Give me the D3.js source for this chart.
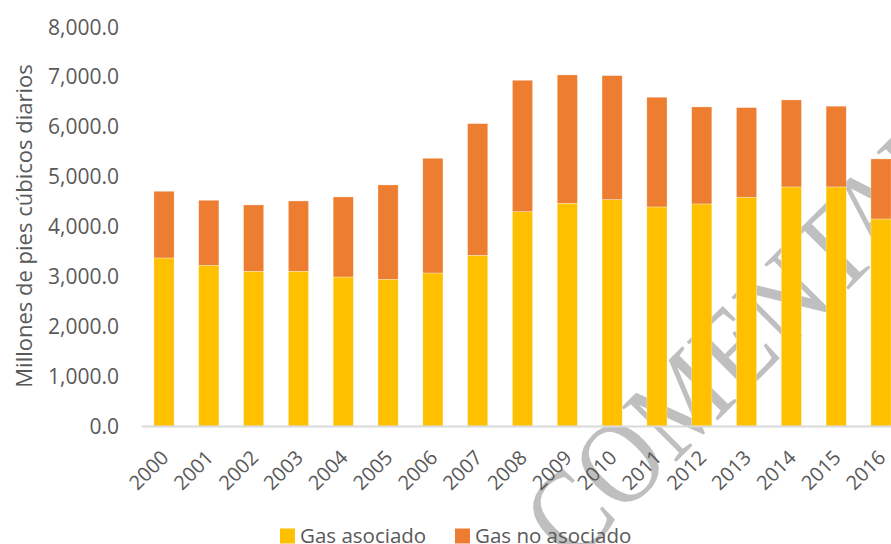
<!DOCTYPE html>
<html><head><meta charset="utf-8">
<script src="https://cdn.jsdelivr.net/npm/d3@7"></script>
<style>html,body{margin:0;padding:0;background:#fff;overflow:hidden}svg{display:block}</style>
</head><body>
<script>
const years = ["2000","2001","2002","2003","2004","2005","2006","2007","2008","2009","2010","2011","2012","2013","2014","2015","2016"];
const gasAsociado = [3367,3220,3100,3100,2986,2940,3066,3420,4295,4462,4536,4389,4449,4583,4790,4790,4148];
const gasTotal = [4703,4523,4429,4509,4589,4830,5364,6058,6927,7034,7020,6587,6393,6380,6533,6407,5351];
const gasNoAsociado = gasTotal.map((t,i)=>t-gasAsociado[i]);
const yTicks = [0,1000,2000,3000,4000,5000,6000,7000,8000];
const seriesNames = ["Gas asociado","Gas no asociado"];
const colors = ["#FFC000","#ED7D31"];

(function(){
const W=891,H=544;
const svg=d3.select("body").append("svg").attr("width",W).attr("height",H);
const mLeft=141.6, mRight=903.4, mTop=26.7, mBottom=426;
const x=d3.scaleBand().domain(years).range([mLeft,mRight]).paddingInner(0.55).paddingOuter(0.275);
const y=d3.scaleLinear().domain([0,8000]).range([mBottom,mTop]);
const font="'Open Sans', sans-serif", tc="#595959";

// watermark (behind the chart)
svg.append("text").attr("transform","translate(572,566) rotate(-45) scale(0.88,1)")
  .attr("font-family","'Liberation Serif', serif").attr("font-size","118px")
  .style("fill","#bfbfbf").style("stroke","none")
  .text("COMENTADO");

const data=years.map((yr,i)=>({year:yr,"Gas asociado":gasAsociado[i],"Gas no asociado":gasNoAsociado[i]}));
const stack=d3.stack().keys(seriesNames)(data);

svg.append("g").selectAll("g").data(stack).join("g").attr("fill",(d,i)=>colors[i])
  .selectAll("rect").data(d=>d).join("rect")
  .attr("x",d=>x(d.data.year)).attr("width",x.bandwidth())
  .attr("y",d=>y(d[1])).attr("height",d=>y(d[0])-y(d[1]))
  .attr("stroke","#fff").attr("stroke-opacity",0.5).attr("stroke-width",0.6);

svg.append("line").attr("x1",mLeft).attr("x2",W).attr("y1",mBottom+0.5).attr("y2",mBottom+0.5)
  .attr("stroke","#d9d9d9").attr("stroke-width",2);

const ya=svg.append("g").attr("transform",`translate(119,0)`)
  .call(d3.axisLeft(y).tickValues(yTicks).tickSize(0).tickPadding(0).tickFormat(d3.format(",.1f")));
ya.select(".domain").remove();
ya.selectAll("text").attr("font-family",font).attr("font-size","21px").attr("fill",tc).attr("dy","0.35em");

const xa=svg.append("g").attr("transform",`translate(0,${mBottom})`)
  .call(d3.axisBottom(x).tickSize(0).tickPadding(0));
xa.select(".domain").remove();
xa.selectAll("text").attr("font-family",font).attr("font-size","20px").attr("fill",tc)
  .attr("text-anchor","end").attr("dy",null).attr("y",null)
  .attr("transform","translate(-6,21) rotate(-45)").attr("dominant-baseline","hanging");

svg.append("text").attr("transform","translate(32,226) rotate(-90)").attr("text-anchor","middle")
  .attr("font-family",font).attr("font-size","22px").attr("fill",tc).text("Millones de pies cúbicos diarios");

const lg=svg.append("g").attr("transform","translate(280,536)");
seriesNames.forEach((n,i)=>{
  const g=lg.append("g").attr("transform",`translate(${i===0?0:175},0)`);
  g.append("rect").attr("x",0).attr("y",-7.5).attr("width",15).attr("height",15).attr("fill",colors[i]);
  g.append("text").attr("x",20).attr("y",0).attr("dy","0.35em").attr("font-family",font).attr("font-size","20.5px").attr("fill",tc).text(n);
});
})();
</script>
</body></html>
